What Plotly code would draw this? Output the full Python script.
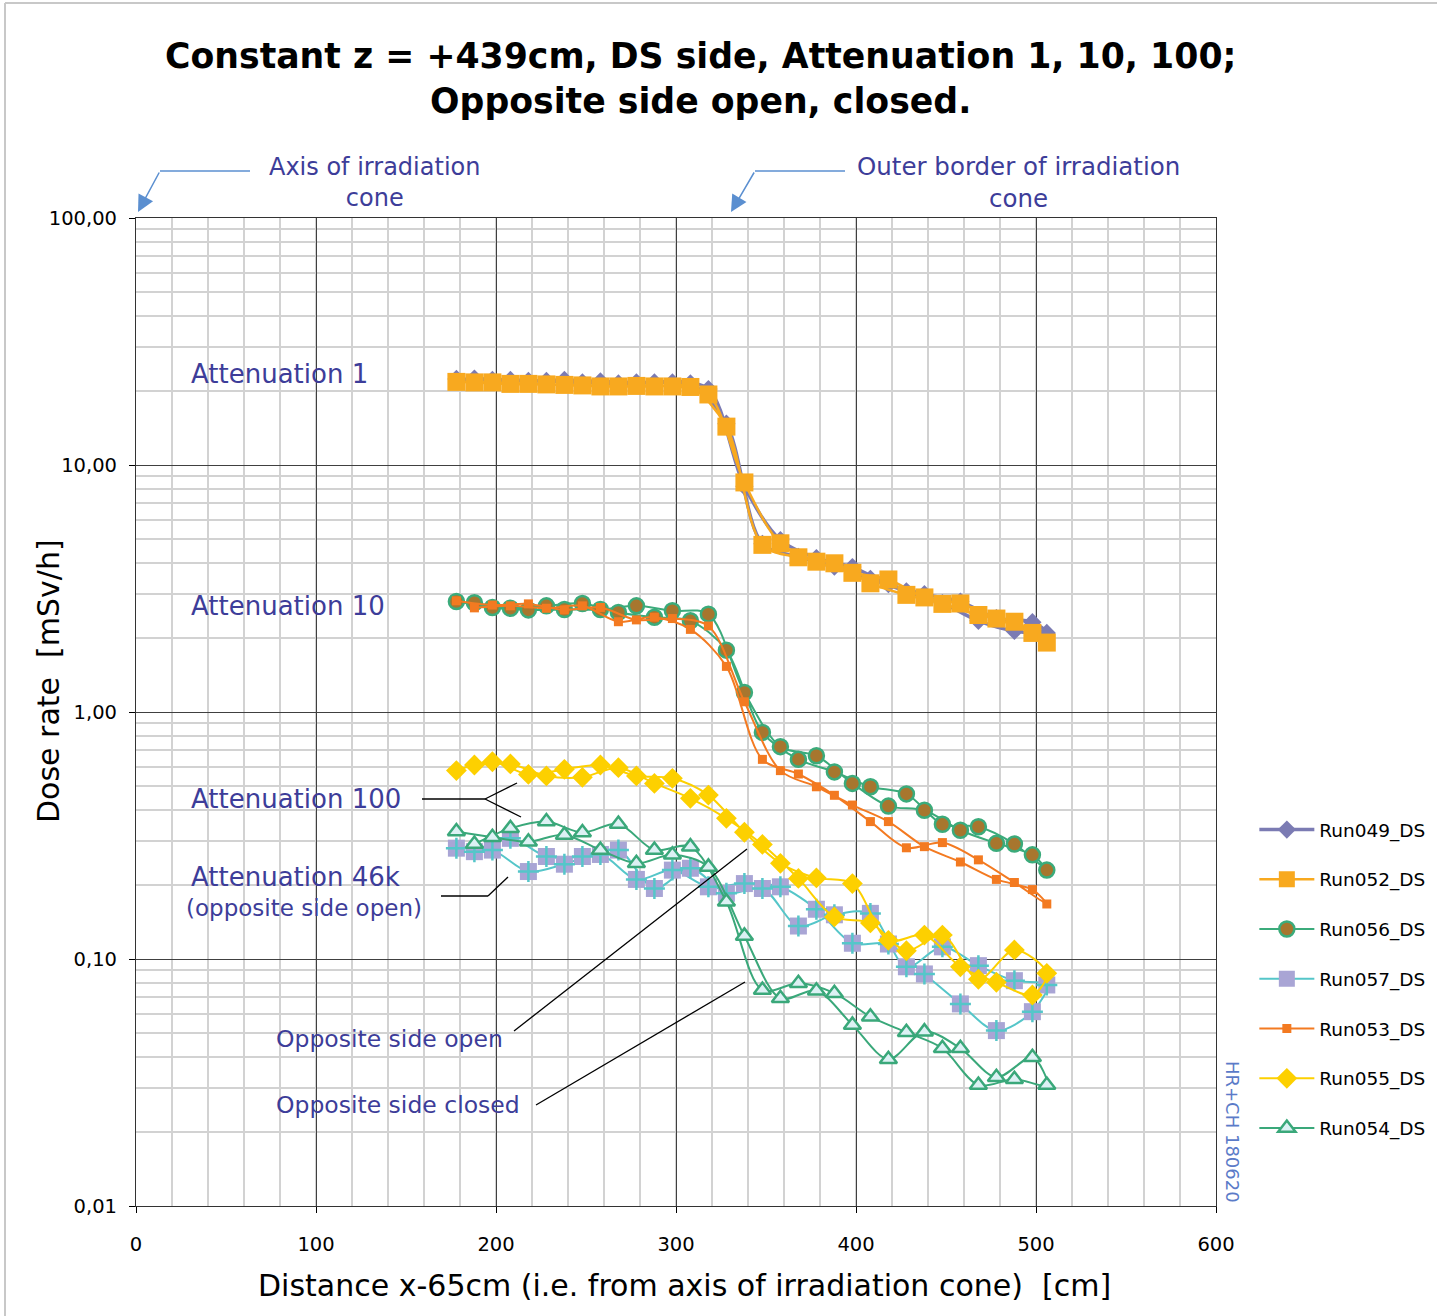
import plotly.graph_objects as go

# Measurement positions along x (cm from the cone axis)
x_pos = [178, 188, 198, 208, 218, 228, 238, 248, 258, 268, 278, 288, 298, 308, 318,
         328, 338, 348, 358, 368, 378, 388, 398, 408, 418, 428, 438, 448, 458, 468,
         478, 488, 498, 506]

# Dose rates [mSv/h] at each x position
run049 = [22.3, 22.4, 22.1, 22.1, 21.9, 21.9, 22.1, 21.6, 21.8, 21.4, 21.6, 21.6, 21.6, 21.4, 20.3,
          14.7, 8.2, 4.8, 4.97, 4.25, 4.2, 3.88, 3.86, 3.46, 3.29, 3.08, 3.0, 2.76, 2.8, 2.34,
          2.4, 2.13, 2.31, 2.09]
run052 = [21.7, 21.6, 21.6, 21.3, 21.3, 21.2, 21.1, 21.0, 20.8, 20.8, 20.9, 20.8, 20.8, 20.7, 19.3,
          14.3, 8.5, 4.75, 4.82, 4.23, 4.06, 4.0, 3.66, 3.32, 3.44, 2.98, 2.91, 2.74, 2.75, 2.47,
          2.39, 2.32, 2.09, 1.91]
run056 = [2.80, 2.77, 2.65, 2.63, 2.59, 2.69, 2.60, 2.75, 2.60, 2.53, 2.69, 2.42, 2.57, 2.34, 2.49,
          1.78, 1.20, 0.827, 0.724, 0.643, 0.665, 0.572, 0.514, 0.498, 0.416, 0.466, 0.400, 0.351, 0.332, 0.343,
          0.294, 0.292, 0.264, 0.229]
run057 = [0.281, 0.272, 0.276, 0.308, 0.226, 0.260, 0.242, 0.260, 0.265, 0.276, 0.210, 0.193, 0.229, 0.233, 0.196,
          0.1845, 0.202, 0.193, 0.196, 0.136, 0.159, 0.151, 0.1158, 0.153, 0.115, 0.093, 0.087, 0.112, 0.0658, 0.094,
          0.0513, 0.0817, 0.0612, 0.0785]
run053 = [2.82, 2.64, 2.71, 2.69, 2.74, 2.63, 2.59, 2.69, 2.65, 2.32, 2.36, 2.42, 2.39, 2.16, 2.23,
          1.53, 1.10, 0.643, 0.579, 0.561, 0.498, 0.460, 0.420, 0.360, 0.360, 0.282, 0.285, 0.296, 0.247, 0.252,
          0.210, 0.204, 0.191, 0.167]
run055 = [0.579, 0.610, 0.629, 0.616, 0.559, 0.551, 0.586, 0.544, 0.610, 0.595, 0.551, 0.514, 0.539, 0.447, 0.461,
          0.371, 0.326, 0.291, 0.244, 0.212, 0.213, 0.148, 0.202, 0.140, 0.119, 0.108, 0.125, 0.125, 0.093, 0.0828,
          0.0805, 0.1088, 0.0715, 0.0875]
run054 = [0.328, 0.292, 0.311, 0.338, 0.2985, 0.360, 0.318, 0.325, 0.276, 0.352, 0.244, 0.276, 0.264, 0.285, 0.236,
          0.1706, 0.124, 0.0749, 0.0693, 0.0797, 0.0744, 0.0727, 0.0541, 0.0584, 0.0393, 0.0505, 0.0508, 0.0435, 0.0435, 0.0309,
          0.0332, 0.0326, 0.0400, 0.0309]

y_tickvals = [0.01, 0.1, 1, 10, 100]
y_ticktext = ["0,01", "0,10", "1,00", "10,00", "100,00"]
x_tickvals = [0, 100, 200, 300, 400, 500, 600]

FONT = "Comic Sans MS, DejaVu Sans, sans-serif"
BLUE_TXT = "#3D3D99"
ARROW_BLUE = "#5B8FD0"

# Scan order: outward over every second position, then back over the others
n = len(x_pos)
out_idx = list(range(0, n - 1, 2))
back_idx = [n - 1] + list(range(n - 3, 0, -2))
path = out_idx + back_idx


def scan(vals):
    return [x_pos[i] for i in path], [vals[i] for i in path]


fig = go.Figure()


def add_run(name, vals, line_color, line_w, symbol, size, fill, edge=None, edge_w=0):
    xs, ys = scan(vals)
    fig.add_trace(go.Scatter(
        x=xs, y=ys, name=name, legendgroup=name, mode="lines+markers",
        line=dict(color=line_color, width=line_w, shape="spline", smoothing=0.9),
        marker=dict(symbol=symbol, size=size, color=fill,
                    line=dict(color=edge or fill, width=edge_w)),
    ))


add_run("Run049_DS", run049, "#7B7BB3", 3.5, "diamond", 14, "#7B7BB3")
add_run("Run052_DS", run052, "#F8A91F", 2.5, "square", 18, "#F8A91F")
add_run("Run056_DS", run056, "#3BAB7B", 2, "circle", 15, "#A7762E", "#3BAB7B", 2.5)
add_run("Run057_DS", run057, "#55C6C9", 2, "square", 17, "#A9A5D5")
xs, ys = scan(run057)
fig.add_trace(go.Scatter(
    x=xs, y=ys, mode="markers", legendgroup="Run057_DS", showlegend=False,
    marker=dict(symbol="cross-thin", size=15, line=dict(color="#55C6C9", width=2.5)),
    hoverinfo="skip",
))
add_run("Run053_DS", run053, "#F37A21", 2, "square", 9, "#F37A21")
add_run("Run055_DS", run055, "#FDD000", 2, "diamond", 16, "#FDD000")
add_run("Run054_DS", run054, "#3AA87A", 2, "triangle-up", 15, "#DCF1F4", "#3AA87A", 2.5)


# pixel -> paper helpers for decorations
def px(x):
    return (x - 136) / 1080


def py(y):
    return (1206 - y) / 988


shapes = []


def seg(x0, y0, x1, y1, color="black", w=1.3):
    shapes.append(dict(type="line", xref="paper", yref="paper",
                       x0=px(x0), y0=py(y0), x1=px(x1), y1=py(y1),
                       line=dict(color=color, width=w)))


# leader lines
seg(422, 799, 485, 799)
seg(485, 799, 517, 783)
seg(485, 799, 521, 817)
seg(441, 896, 488, 896)
seg(488, 896, 508, 877)
seg(514, 1031, 747, 849)
seg(536, 1105, 745, 982)
# arrow tails
seg(160, 171, 250, 171, ARROW_BLUE, 1.5)
seg(755, 171, 845, 171, ARROW_BLUE, 1.5)
# outer frame
seg(5, 3, 5, 1320, "#C8C8C8", 2)
seg(5, 3, 1437, 3, "#C8C8C8", 2)

annotations = []


def label(text, x, y, size, xanchor="left", color=BLUE_TXT, angle=0):
    annotations.append(dict(text=text, x=px(x), y=py(y), xref="paper", yref="paper",
                            xanchor=xanchor, yanchor="middle", showarrow=False,
                            textangle=angle, align="center",
                            font=dict(family=FONT, size=size, color=color)))


label("<b>Constant z = +439cm, DS side, Attenuation 1, 10, 100;<br>Opposite side open, closed.</b>",
      700, 78, 34.7, "center", "black")
label("Attenuation 1", 189, 374, 26)
label("Attenuation 10", 189, 606, 26)
label("Attenuation 100", 189, 799, 26)
label("Attenuation 46k", 189, 877, 26)
label("(opposite side open)", 304, 908, 23, "center")
label("Opposite side open", 274, 1039, 23.5)
label("Opposite side closed", 274, 1105, 23.5)
label("Axis of irradiation<br>cone", 374, 182, 24, "center")
label("Outer border of irradiation<br>cone", 1018, 183, 24.5, "center")
label("HR+CH 180620", 1233, 1132, 18, "center", "#5B7BC8", 90)
label("Distance x-65cm (i.e. from axis of irradiation cone)  [cm]", 684, 1285, 30, "center", "black")
label("Dose rate  [mSv/h]", 48, 681, 30, "center", "black", -90)

# arrowheads
for tip, tail in [((138, 212), (160, 171)), ((731, 212), (755, 171))]:
    annotations.append(dict(x=px(tip[0]), y=py(tip[1]), xref="paper", yref="paper",
                            ax=tail[0] - tip[0], ay=tail[1] - tip[1], text="",
                            showarrow=True, arrowhead=2, arrowsize=2.2, arrowwidth=1.5,
                            arrowcolor=ARROW_BLUE))

minor_y = [m * d for d in (0.01, 0.1, 1, 10) for m in range(2, 10)]

fig.update_layout(
    width=1437, height=1316,
    margin=dict(l=136, r=221, t=218, b=110, autoexpand=False),
    paper_bgcolor="white", plot_bgcolor="white",
    font=dict(family=FONT, color="black"),
    shapes=shapes, annotations=annotations,
    showlegend=True,
    legend=dict(x=1.0355, xanchor="left", y=py(811), yanchor="top",
                font=dict(family=FONT, size=18.5, color="black"),
                itemwidth=55, tracegroupgap=22.7, bgcolor="rgba(0,0,0,0)"),
    xaxis=dict(range=[0, 600], tickvals=x_tickvals, ticks="outside", ticklen=6,
               tickcolor="black", showgrid=True, gridcolor="#404040", gridwidth=1,
               showline=True, linecolor="#333333", linewidth=1.2, mirror=True,
               zeroline=False, tickfont=dict(family=FONT, size=19.5),
               ticklabelstandoff=14,
               minor=dict(dtick=20, showgrid=True, gridcolor="#D2D2D2", gridwidth=1.5)),
    yaxis=dict(type="log", range=[-2, 2], tickvals=y_tickvals, ticktext=y_ticktext,
               ticks="outside", ticklen=6, tickcolor="black",
               showgrid=True, gridcolor="#404040", gridwidth=1,
               showline=True, linecolor="#333333", linewidth=1.2, mirror=True,
               zeroline=False, tickfont=dict(family=FONT, size=19.5),
               ticklabelstandoff=8,
               minor=dict(tickvals=minor_y, showgrid=True, gridcolor="#D2D2D2", gridwidth=1.5)),
)

fig.write_html("out.html")
